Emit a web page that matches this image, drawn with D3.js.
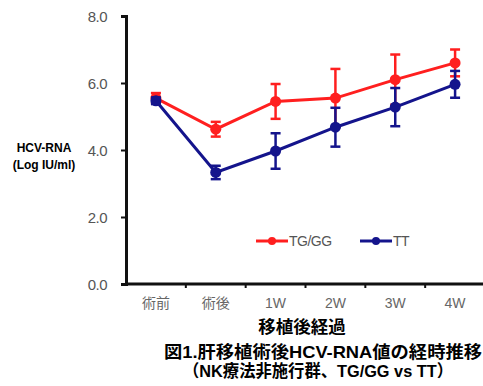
<!DOCTYPE html>
<html>
<head>
<meta charset="utf-8">
<script src="https://cdn.jsdelivr.net/npm/d3@7"></script>
<style>
  body { margin: 0; background: #fff; }
  svg { display: block; }
  text { font-family: "Liberation Sans", Arial, "Noto Sans CJK JP", sans-serif; }
</style>
</head>
<body>
<svg width="483" height="386"></svg>
<script>
// categories along the x axis
const categories = ["術前", "術後", "1W", "2W", "3W", "4W"]
// HCV-RNA (Log IU/ml), mean values
const tgggMean = [5.55, 4.62, 5.45, 5.55, 6.1, 6.6]
const tgggErr = [0.15, 0.22, 0.52, 0.87, 0.75, 0.4]
const ttMean = [5.47, 3.33, 3.97, 4.68, 5.28, 5.96]
const ttErr = [0.1, 0.2, 0.53, 0.58, 0.57, 0.4]
const yTicks = [0, 2, 4, 6, 8]

const RED = "#ff1f1f"
const BLUE = "#14148c"

const svg = d3.select("svg")

// scales
const x = d3.scaleBand().domain(categories).range([126, 485])
const y = d3.scaleLinear().domain([0, 8]).range([284, 16])

// y axis
const yAxis = svg.append("g")
  .attr("transform", "translate(126,0)")
  .call(d3.axisLeft(y).tickValues(yTicks).tickFormat(d3.format(".1f")).tickSize(5).tickPadding(14))
yAxis.select(".domain").attr("stroke", "#111").attr("stroke-width", 3)
yAxis.selectAll(".tick line").attr("stroke", "#111").attr("stroke-width", 2)
yAxis.selectAll(".tick text")
  .attr("fill", "#555").attr("font-size", 15).attr("dy", "0.36em")
  .style("letter-spacing", "-0.5px")

// x axis, ticks at the band edges
const xAxis = svg.append("g").attr("transform", "translate(0,284)")
xAxis.append("line")
  .attr("x1", x.range()[0]).attr("x2", x.range()[1])
  .attr("stroke", "#111").attr("stroke-width", 3)
xAxis.selectAll("line.tk")
  .data(categories.slice(1))
  .enter().append("line")
  .attr("class", "tk")
  .attr("x1", d => x(d)).attr("x2", d => x(d))
  .attr("y1", 0).attr("y2", 4)
  .attr("stroke", "#111").attr("stroke-width", 2)
xAxis.selectAll("text")
  .data(categories)
  .enter().append("text")
  .attr("x", d => x(d) + x.bandwidth() / 2)
  .attr("y", 24)
  .attr("text-anchor", "middle")
  .attr("fill", "#666")
  .attr("font-size", 14)
  .text(d => d)

// draw one series with line, error bars, and markers
function drawSeries(mean, err, color) {
  const pts = categories.map((c, i) => ({ c, v: mean[i], e: err[i] }))
  const cx = d => x(d.c) + x.bandwidth() / 2
  const g = svg.append("g")
  g.append("path")
    .datum(pts)
    .attr("fill", "none")
    .attr("stroke", color)
    .attr("stroke-width", 3)
    .attr("d", d3.line().x(cx).y(d => y(d.v)))
  g.selectAll("line.eb")
    .data(pts)
    .enter().append("line")
    .attr("class", "eb")
    .attr("x1", cx).attr("x2", cx)
    .attr("y1", d => y(d.v - d.e)).attr("y2", d => y(d.v + d.e))
    .attr("stroke", color).attr("stroke-width", 2.5)
  pts.forEach(d => {
    ;[d.v - d.e, d.v + d.e].forEach(v => {
      g.append("line")
        .attr("x1", cx(d) - 5).attr("x2", cx(d) + 5)
        .attr("y1", y(v)).attr("y2", y(v))
        .attr("stroke", color).attr("stroke-width", 2.5)
    })
  })
  g.selectAll("circle")
    .data(pts)
    .enter().append("circle")
    .attr("cx", cx).attr("cy", d => y(d.v))
    .attr("r", 5.5)
    .attr("fill", color)
}
drawSeries(tgggMean, tgggErr, RED)
drawSeries(ttMean, ttErr, BLUE)

// legend
const legend = [{ name: "TG/GG", color: RED, x: 256 }, { name: "TT", color: BLUE, x: 360 }]
legend.forEach(l => {
  const g = svg.append("g").attr("transform", `translate(${l.x},241)`)
  g.append("line").attr("x1", 0).attr("x2", 32).attr("stroke", l.color).attr("stroke-width", 3)
  g.append("circle").attr("cx", 16).attr("r", 4).attr("fill", l.color)
  g.append("text").attr("x", 33).attr("dy", "0.36em")
    .attr("fill", "#555").attr("font-size", 14)
    .style("letter-spacing", "-0.5px")
    .text(l.name)
})

// y label
const yl = svg.append("text").attr("text-anchor", "middle")
  .attr("font-weight", "bold").attr("font-size", 12).attr("fill", "#000")
yl.append("tspan").attr("x", 44).attr("y", 152).text("HCV-RNA")
yl.append("tspan").attr("x", 44).attr("y", 169).text("(Log IU/ml)")

// x title
svg.append("text")
  .attr("x", 302).attr("y", 333)
  .attr("text-anchor", "middle")
  .attr("font-weight", "bold").attr("font-size", 17.5).attr("fill", "#000")
  .style("font-family", "'Noto Sans CJK JP', sans-serif")
  .text("移植後経過")

// figure caption
svg.append("text")
  .attr("x", 164).attr("y", 358)
  .attr("font-weight", "bold").attr("font-size", 17).attr("fill", "#000")
  .attr("textLength", 318).attr("lengthAdjust", "spacingAndGlyphs")
  .text("図1.肝移植術後HCV-RNA値の経時推移")
svg.append("text")
  .attr("x", 183).attr("y", 377)
  .attr("font-weight", "bold").attr("font-size", 17).attr("fill", "#000")
  .attr("textLength", 270).attr("lengthAdjust", "spacingAndGlyphs")
  .text("（NK療法非施行群、TG/GG vs  TT）")
</script>
</body>
</html>
